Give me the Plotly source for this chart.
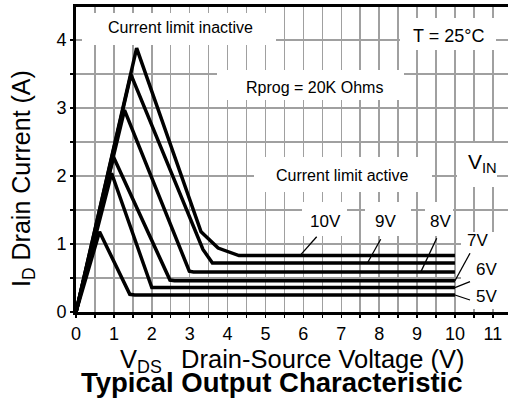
import plotly.graph_objects as go

# ---- data ----
series_names = ["10V", "9V", "8V", "7V", "6V", "5V"]
vds_10 = [0, 1.60, 3.30, 3.75, 4.30, 10]
id_10 = [0, 3.88, 1.18, 0.94, 0.83, 0.83]
vds_9 = [0, 1.45, 3.35, 3.60, 10]
id_9 = [0, 3.49, 0.92, 0.72, 0.72]
vds_8 = [0, 1.28, 2.99, 3.10, 10]
id_8 = [0, 2.97, 0.60, 0.59, 0.59]
vds_7 = [0, 0.99, 2.48, 2.60, 10]
id_7 = [0, 2.28, 0.47, 0.46, 0.46]
vds_6 = [0, 0.94, 2.00, 2.10, 10]
id_6 = [0, 2.04, 0.36, 0.36, 0.36]
vds_5 = [0, 0.62, 1.42, 1.55, 10]
id_5 = [0, 1.18, 0.26, 0.25, 0.25]

x_ticks = list(range(0, 12))
y_ticks = [0, 1, 2, 3, 4]

curves = [(vds_10, id_10), (vds_9, id_9), (vds_8, id_8),
          (vds_7, id_7), (vds_6, id_6), (vds_5, id_5)]

W, H = 508, 417
ML, MR, MT, MB = 76, 0, 7, 105
XMAX, YMAX = 11.4, 4.485
PW, PH = W - ML - MR, H - MT - MB


def dx(px):
    return (px - ML) / PW * XMAX


def dy(py):
    return (H - MB - py) / PH * YMAX


def px2paper_x(px):
    return (px - ML) / PW


def px2paper_y(py):
    return (H - MB - py) / PH


fig = go.Figure()
for (xs, ys), name in zip(curves, series_names):
    fig.add_trace(go.Scatter(x=xs, y=ys, mode="lines", name=name,
                             line=dict(color="black", width=3.5),
                             showlegend=False, hoverinfo="skip"))

FONT = "Liberation Sans, Arial, sans-serif"
shapes = []
# white boxes behind the text labels (cover grid, under traces)
boxes = [(82, 13, 276, 45), (400, 18, 496, 50), (217, 70, 404, 100),
         (254, 157, 432, 192), (457, 143, 497, 187),
         (302, 202, 347, 236), (365, 202, 411, 236), (425, 202, 453, 236),
         (461, 232, 508, 309)]
for x0, y0, x1, y1 in boxes:
    shapes.append(dict(type="rect", xref="x", yref="y", x0=dx(x0), x1=dx(x1),
                       y0=dy(y1), y1=dy(y0), fillcolor="white",
                       line=dict(width=0), layer="between"))

# pointer lines from labels to curves
sat_levels = [id_10[-1], id_9[-1], id_8[-1], id_7[-1], id_6[-1], id_5[-1]]
pointer_start = [(316.7, 236.7), (380.7, 239.3), (436.7, 238.3),
                 (470, 253.3), (470, 281.7), (470, 300)]
pointer_end_x = [5.91, 7.69, 9.10, 10.0, 10.0, 10.0]
for (sx, sy), ex, lev in zip(pointer_start, pointer_end_x, sat_levels):
    shapes.append(dict(type="line", xref="x", yref="y", x0=dx(sx), y0=dy(sy),
                       x1=ex, y1=lev, line=dict(color="black", width=1.3),
                       layer="above"))

annotations = []


def label(text, cx, cy, size, **kw):
    d = dict(text=text, xref="x", yref="y", x=dx(cx), y=dy(cy),
             showarrow=False, font=dict(family=FONT, size=size, color="black"),
             xanchor="center", yanchor="middle")
    d.update(kw)
    annotations.append(d)


label("Current limit inactive", 180, 27, 16)
label("T = 25°C", 448, 36, 18)
label("Rprog = 20K Ohms", 314, 87, 16)
label("Current limit active", 342, 175, 16)
label("V<sub>IN</sub>", 466, 163, 21, xanchor="left")
label("10V", 325, 221, 17)
label("9V", 385, 221, 17)
label("8V", 440, 221, 17)
label("7V", 477, 240, 17)
label("6V", 486, 269, 17)
label("5V", 486, 296, 17)

# axis titles and chart title
annotations.append(dict(text="V<sub>DS</sub>\u00a0\u00a0\u2009Drain-Source Voltage (V)",
                        xref="paper", yref="paper", x=px2paper_x(292),
                        y=px2paper_y(361), showarrow=False,
                        font=dict(family=FONT, size=25.5, color="black"),
                        xanchor="center", yanchor="middle"))
annotations.append(dict(text="I<sub>D</sub> Drain Current (A)",
                        xref="paper", yref="paper", x=px2paper_x(23),
                        y=px2paper_y(179), showarrow=False, textangle=-90,
                        font=dict(family=FONT, size=25, color="black"),
                        xanchor="center", yanchor="middle"))
annotations.append(dict(text="<b>Typical Output Characteristic</b>",
                        xref="paper", yref="paper", x=px2paper_x(272),
                        y=px2paper_y(382), showarrow=False,
                        font=dict(family=FONT, size=27.5, color="black"),
                        xanchor="center", yanchor="middle"))

GRID = "#a0a0a0"
fig.update_layout(
    width=W, height=H,
    margin=dict(l=ML, r=MR, t=MT, b=MB),
    paper_bgcolor="white", plot_bgcolor="white",
    shapes=shapes, annotations=annotations,
    font=dict(family=FONT, color="black"),
    xaxis=dict(range=[0, XMAX], tickvals=x_ticks, ticktext=[str(v) for v in x_ticks],
               showgrid=True, gridcolor=GRID, gridwidth=1.5, zeroline=False,
               showline=True, linecolor="black", linewidth=3, mirror=True,
               ticks="outside", ticklen=3, tickcolor="black", tickwidth=1.5,
               tickfont=dict(family=FONT, size=18, color="black"),
               minor=dict(dtick=0.5, showgrid=True, gridcolor=GRID, gridwidth=1.5,
                          ticks="outside", ticklen=3, tickcolor="black")),
    yaxis=dict(range=[0, YMAX], tickvals=y_ticks, ticktext=[str(v) for v in y_ticks],
               showgrid=True, gridcolor=GRID, gridwidth=1.5, zeroline=False,
               showline=True, linecolor="black", linewidth=3, mirror=False,
               ticks="outside", ticklen=3, tickcolor="black", tickwidth=1.5,
               tickfont=dict(family=FONT, size=18, color="black"),
               minor=dict(dtick=0.5, showgrid=True, gridcolor=GRID, gridwidth=1.5,
                          ticks="outside", ticklen=3, tickcolor="black")),
)

fig.write_html("out.html",
               config={"displayModeBar": False, "staticPlot": True},
               post_script="document.body.style.margin='0px';"
                           "document.body.style.overflow='hidden';")
